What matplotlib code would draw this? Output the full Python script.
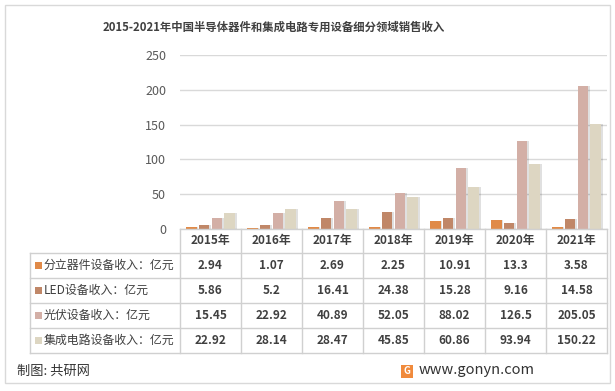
import matplotlib
matplotlib.use("Agg")
import matplotlib.pyplot as plt
from matplotlib.patches import Rectangle
from matplotlib.lines import Line2D
import numpy as np

plt.rcParams['font.family'] = ['Noto Sans CJK SC', 'DejaVu Sans']

title = "2015-2021年中国半导体器件和集成电路专用设备细分领域销售收入"
years = ["2015年", "2016年", "2017年", "2018年", "2019年", "2020年", "2021年"]
series_names = ["分立器件设备收入：亿元", "LED设备收入：亿元", "光伏设备收入：亿元", "集成电路设备收入：亿元"]
discrete = [2.94, 1.07, 2.69, 2.25, 10.91, 13.3, 3.58]
led = [5.86, 5.2, 16.41, 24.38, 15.28, 9.16, 14.58]
pv = [15.45, 22.92, 40.89, 52.05, 88.02, 126.5, 205.05]
ic = [22.92, 28.14, 28.47, 45.85, 60.86, 93.94, 150.22]
values = [discrete, led, pv, ic]
colors = ["#E08A48", "#C08768", "#D3AFA6", "#DDD6C2"]
value_labels = [[str(v) for v in s] for s in values]

W, H = 615, 391
fig = plt.figure(figsize=(W/100, H/100), dpi=100)

def fx(px):
    return px / W

def fy(py):
    return 1 - py / H

# outer border
fig.add_artist(Rectangle((fx(5), fy(383)), fx(605), 378/H, transform=fig.transFigure,
                         fill=False, edgecolor="#D9D9D9", lw=1.0))

ax = fig.add_axes([fx(180), fy(229), fx(607) - fx(180), fy(55) - fy(229)])
x = np.arange(len(years))
step = 0.213
width = 0.18
for i, (s, c) in enumerate(zip(values, colors)):
    off = (i - 1.5) * step
    ax.bar(x + off + 0.03, s, width, color="#000000", alpha=0.12, zorder=2)
    ax.bar(x + off, s, width, color=c, zorder=3)
ax.set_xlim(-0.5, 6.5)
ax.set_ylim(0, 250)
ax.set_yticks(range(0, 251, 50))
ax.yaxis.grid(True, color="#D9D9D9", lw=1.0, zorder=0)
ax.set_axisbelow(True)
for sp in ax.spines.values():
    sp.set_visible(False)
ax.tick_params(axis='y', length=0, labelsize=9, labelcolor="#595959", pad=10)
ax.set_xticks([])

# title
fig.text(fx(274), fy(27), title, ha="center", va="center", fontsize=8.2, fontweight="bold", color="#404040")

# table
line_c = "#D0D0D0"
col_x = [180 + i * 61 for i in range(8)]
row_y = [229, 253, 278, 303, 328, 353]
fig.add_artist(Line2D([fx(180), fx(607)], [fy(229), fy(229)], transform=fig.transFigure, color=line_c, lw=1))
for yy in row_y[1:]:
    fig.add_artist(Line2D([fx(30), fx(607)], [fy(yy), fy(yy)], transform=fig.transFigure, color=line_c, lw=1))
for cx in col_x:
    fig.add_artist(Line2D([fx(cx), fx(cx)], [fy(229), fy(353)], transform=fig.transFigure, color=line_c, lw=1))
fig.add_artist(Line2D([fx(30), fx(30)], [fy(253), fy(353)], transform=fig.transFigure, color=line_c, lw=1))

txt_c = "#404040"
for j, yl in enumerate(years):
    cx = (col_x[j] + col_x[j + 1]) / 2
    fig.text(fx(cx), fy((row_y[0] + row_y[1]) / 2), yl, ha="center", va="center", fontsize=8.5, color=txt_c, fontweight="bold")
for i, name in enumerate(series_names):
    cy = (row_y[i + 1] + row_y[i + 2]) / 2
    fig.add_artist(Rectangle((fx(35), fy(cy + 3.5)), 7 / W, 7 / H, transform=fig.transFigure,
                             facecolor=colors[i], edgecolor="none"))
    fig.text(fx(44), fy(cy), name, ha="left", va="center", fontsize=8.6, color=txt_c)
    for j, v in enumerate(value_labels[i]):
        cx = (col_x[j] + col_x[j + 1]) / 2
        fig.text(fx(cx), fy(cy), v, ha="center", va="center", fontsize=8.5, color=txt_c, fontweight="bold")

# footer
fig.text(fx(17), fy(371), "制图: 共研网", ha="left", va="center", fontsize=9.5, color="#333333")
fig.add_artist(Rectangle((fx(401), fy(378)), 12 / W, 13 / H, transform=fig.transFigure,
                         facecolor="#F08A3C", edgecolor="none"))
fig.text(fx(404), fy(371.5), "G", ha="left", va="center", fontsize=7, color="white", fontweight="bold")
fig.text(fx(419), fy(370), "www.gonyn.com", ha="left", va="center", fontsize=10.5, color="#333333")

fig.savefig("out.png", dpi=100)
